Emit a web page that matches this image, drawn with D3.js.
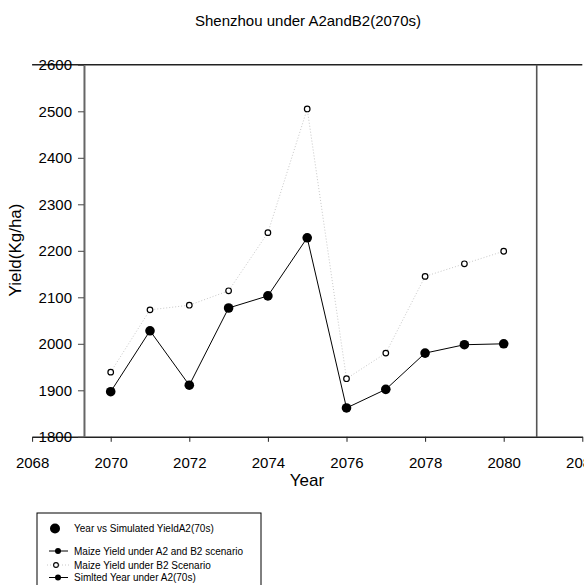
<!DOCTYPE html>
<html>
<head>
<meta charset="utf-8">
<script src="https://cdn.jsdelivr.net/npm/d3@7"></script>
<style>
  html, body { margin: 0; padding: 0; background: #fff; }
  svg { display: block; font-family: "Liberation Sans", Arial, sans-serif; }
</style>
</head>
<body>
<svg id="chart" width="584" height="585"></svg>
<script>
// Simulated maize yield, Shenzhou, 2070s
const years = [2070, 2071, 2072, 2073, 2074, 2075, 2076, 2077, 2078, 2079, 2080];
const yieldA2 = [1897, 2028, 1911, 2077, 2103, 2228, 1862, 1902, 1980, 1998, 2000];
const yieldB2 = [1939, 2073, 2083, 2114, 2239, 2505, 1925, 1980, 2145, 2172, 2199];
const xTicks = [2068, 2070, 2072, 2074, 2076, 2078, 2080, 2082];
const yTicks = [1800, 1900, 2000, 2100, 2200, 2300, 2400, 2500, 2600];
const legendLabels = [
  "Year vs Simulated YieldA2(70s)",
  "Maize Yield under A2 and B2 scenario",
  "Maize Yield under B2 Scenario",
  "Simlted Year under A2(70s)"
];

// year positions of the offset left axis and the right frame edge
const leftAxisYear = 2069.32;
const rightFrameYear = 2080.84;

const svg = d3.select("#chart");

const x = d3.scaleLinear().domain([2068, 2082]).range([32.1, 582.3]);
const y = d3.scaleLinear().domain([1800, 2600]).range([436.8, 64.8]);

// title
svg.append("text")
  .attr("x", 308).attr("y", 26)
  .attr("text-anchor", "middle")
  .attr("font-size", 15)
  .attr("fill", "#000")
  .text("Shenzhou under A2andB2(2070s)");

// top frame line along the 2600 level
svg.append("line")
  .attr("x1", x(2068)).attr("x2", x(2082))
  .attr("y1", y(2600)).attr("y2", y(2600))
  .attr("stroke", "#222").attr("stroke-width", 1.4);

// right frame line
svg.append("line")
  .attr("x1", x(rightFrameYear)).attr("x2", x(rightFrameYear))
  .attr("y1", y(2600)).attr("y2", y(1800))
  .attr("stroke", "#555").attr("stroke-width", 1.6);

// x axis
const xAxis = svg.append("g")
  .attr("transform", `translate(0,${y(1800)})`)
  .call(d3.axisBottom(x).tickValues(xTicks).tickFormat(d3.format("d"))
        .tickSize(5).tickPadding(16).tickSizeOuter(0));
xAxis.select(".domain").attr("stroke", "#222").attr("stroke-width", 1.4);
xAxis.selectAll(".tick line").attr("stroke", "#222");
xAxis.selectAll("text").attr("font-size", 15).attr("fill", "#000")
  .attr("font-family", "Liberation Sans, Arial, sans-serif");

// y axis
const yAxis = svg.append("g")
  .attr("transform", `translate(${x(leftAxisYear)},0)`)
  .call(d3.axisLeft(y).tickValues(yTicks).tickFormat(d3.format("d"))
        .tickSize(6).tickPadding(6).tickSizeOuter(0));
yAxis.select(".domain").attr("stroke", "#666").attr("stroke-width", 2);
yAxis.selectAll(".tick line").attr("stroke", "#444");
yAxis.selectAll("text").attr("font-size", 15).attr("fill", "#000")
  .attr("font-family", "Liberation Sans, Arial, sans-serif");

// axis titles
svg.append("text")
  .attr("x", 307).attr("y", 486)
  .attr("text-anchor", "middle")
  .attr("font-size", 17)
  .text("Year");

svg.append("text")
  .attr("transform", "translate(21,250) rotate(-90)")
  .attr("text-anchor", "middle")
  .attr("font-size", 17)
  .text("Yield(Kg/ha)");

// B2 scenario: dotted line with open markers
const lineB2 = d3.line().x((d, i) => x(years[i])).y(d => y(d));
svg.append("path")
  .datum(yieldB2)
  .attr("d", lineB2)
  .attr("fill", "none")
  .attr("stroke", "#c8c8c8")
  .attr("stroke-width", 1)
  .attr("stroke-dasharray", "1,2");

svg.selectAll(".ptB2")
  .data(yieldB2)
  .join("circle")
  .attr("class", "ptB2")
  .attr("cx", (d, i) => x(years[i]))
  .attr("cy", d => y(d))
  .attr("r", 2.8)
  .attr("fill", "#fff")
  .attr("stroke", "#000")
  .attr("stroke-width", 1.2);

// A2 scenario: solid line with filled markers
const lineA2 = d3.line().x((d, i) => x(years[i])).y(d => y(d));
svg.append("path")
  .datum(yieldA2)
  .attr("d", lineA2)
  .attr("fill", "none")
  .attr("stroke", "#000")
  .attr("stroke-width", 1);

svg.selectAll(".ptA2")
  .data(yieldA2)
  .join("circle")
  .attr("class", "ptA2")
  .attr("cx", (d, i) => x(years[i]))
  .attr("cy", d => y(d))
  .attr("r", 4.8)
  .attr("fill", "#000");

// legend
const lg = svg.append("g");
lg.append("rect")
  .attr("x", 37).attr("y", 513)
  .attr("width", 224).attr("height", 90)
  .attr("fill", "#fff")
  .attr("stroke", "#000")
  .attr("stroke-width", 1);

const rowY = [528.5, 551, 565, 577.5];
const symX = 58;

// row 1: large filled marker
lg.append("circle").attr("cx", symX - 3).attr("cy", rowY[0]).attr("r", 5).attr("fill", "#000");
// row 2: solid line + small filled marker
lg.append("line").attr("x1", 49).attr("x2", 68).attr("y1", rowY[1]).attr("y2", rowY[1])
  .attr("stroke", "#000").attr("stroke-width", 1);
lg.append("circle").attr("cx", symX).attr("cy", rowY[1]).attr("r", 3).attr("fill", "#000");
// row 3: dotted line + open marker
lg.append("line").attr("x1", 47).attr("x2", 69).attr("y1", rowY[2]).attr("y2", rowY[2])
  .attr("stroke", "#c8c8c8").attr("stroke-width", 1).attr("stroke-dasharray", "1,2");
lg.append("circle").attr("cx", symX - 2).attr("cy", rowY[2]).attr("r", 2.4)
  .attr("fill", "#fff").attr("stroke", "#000").attr("stroke-width", 1.1);
// row 4: solid line + small filled marker
lg.append("line").attr("x1", 49).attr("x2", 68).attr("y1", rowY[3]).attr("y2", rowY[3])
  .attr("stroke", "#000").attr("stroke-width", 1);
lg.append("circle").attr("cx", symX).attr("cy", rowY[3]).attr("r", 3).attr("fill", "#000");

lg.selectAll(".lgText")
  .data(legendLabels)
  .join("text")
  .attr("class", "lgText")
  .attr("x", 74)
  .attr("y", (d, i) => rowY[i])
  .attr("dy", "0.35em")
  .attr("font-size", 10)
  .attr("fill", "#000")
  .text(d => d);
</script>
</body>
</html>
